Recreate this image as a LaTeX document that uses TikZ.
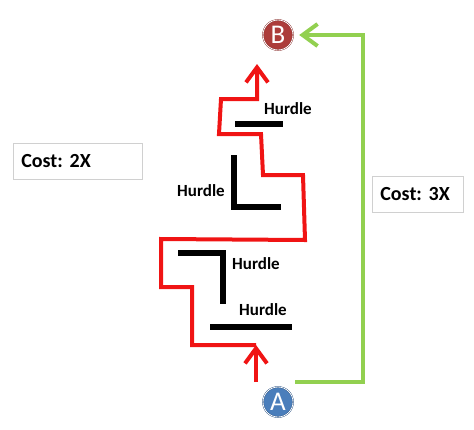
\documentclass[tikz,border=0pt]{standalone}
\usepackage{fontspec}
\setmainfont{Carlito}
\usetikzlibrary{arrows.meta}
\frenchspacing
\definecolor{routered}{RGB}{240,20,20}
\definecolor{routegreen}{RGB}{146,208,80}
\definecolor{pointA}{RGB}{74,126,187}
\definecolor{pointAedge}{RGB}{40,80,130}
\definecolor{pointB}{RGB}{172,60,58}
\definecolor{boxedge}{RGB}{208,208,208}
\tikzset{
  redroute/.style={routered,line width=4pt,line join=miter},
  greenroute/.style={routegreen,line width=4pt},
  barb/.style={-{Straight Barb[length=15pt,width=22pt]}},
  hurdle/.style={black,line width=5.5pt},
  hlabel/.style={anchor=west,inner sep=0pt,font=\fontsize{17}{17}\selectfont\bfseries},
  costbox/.style={draw=boxedge,line width=0.8pt,minimum height=36pt,anchor=west,
    font=\fontsize{20}{20}\selectfont\bfseries,align=left,inner xsep=8pt},
  endpoint/.style={circle,minimum size=30pt,inner sep=0pt,text=white,
    font=\fontsize{27}{27}\selectfont,double=white,double distance=0.8pt}
}
\begin{document}
\begin{tikzpicture}[x=1pt,y=-1pt]
   \useasboundingbox (0,0) rectangle (474,429);
   \node[endpoint,fill=pointB,draw=pointB!80!black] (B) at (278,35) {B};
   \node[endpoint,fill=pointA,draw=pointAedge] (A) at (278,402) {A};
   \node[costbox,minimum width=129pt,text width=113pt] (cost2) at (13,161) {Cost: 2X};
   \node[costbox,minimum width=91pt,text width=75pt] (cost3) at (372,194.5) {Cost: 3X};
   \coordinate (redstart) at (256,382);
   \coordinate (redfoot) at (256,345);
   \coordinate (redtop) at (257,64);
   \coordinate (greenstart) at (295,382);
   \coordinate (greencorner) at (363,35);
   \draw[redroute,barb] (redstart) -- (redfoot);
   \draw[redroute,barb] (redfoot) -- (192,345) -- (192,287) -- (161,287) -- (161,239)
      -- (305,240) -- (303,175) -- (263,175) -- (261,134) -- (219,134) -- (221,99)
      -- (257,99) -- (redtop);
   \draw[greenroute,barb] (greenstart) -| (greencorner) -- ([xshift=6pt]B.east);
   \draw[hurdle] (235,124) -- (283,124);
   \draw[hurdle] (234,155) -- (234,207) -- (281,207);
   \draw[hurdle] (178,253) -- (223,253) -- (223,304);
   \draw[hurdle] (210,327) -- (292,327);
   \node[hlabel] (h1) at (264,109) {Hurdle};
   \node[hlabel] (h2) at (177,191) {Hurdle};
   \node[hlabel] (h3) at (232,264) {Hurdle};
   \node[hlabel] (h4) at (239,310) {Hurdle};
\end{tikzpicture}
\end{document}
